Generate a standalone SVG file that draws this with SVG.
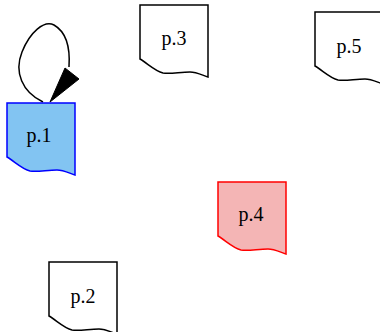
<svg xmlns="http://www.w3.org/2000/svg" width="380" height="332" viewBox="0 0 380 332">
<style>
.doc{fill:#fff;stroke:#000;stroke-width:1.5}
.lbl{font-family:"Liberation Serif",serif;font-size:20px;text-anchor:middle;fill:#000}
</style>
<defs>
<path id="docshape" d="M0,0 H68 V72 C62,70 56,67 50,67 C40,67 31,69 23,68 C15,66 7,58 0,54 Z"/>
</defs>
<g id="edges">
<path d="M43,102 C22,92 14,72 22,52 C30,32 44,20 54,25 C68,33 70,52 69,67" fill="none" stroke="#000" stroke-width="1.5"/>
<polygon points="65,68 79,79 50,102" fill="#000" stroke="#000"/>
</g>
<g id="p1" transform="translate(7,103)">
<use href="#docshape" class="doc" style="fill:#82c4f2;stroke:#0000ff"/>
<text class="lbl" x="32" y="39">p.1</text>
</g>
<g id="p3" transform="translate(140,5)">
<use href="#docshape" class="doc"/>
<text class="lbl" x="34" y="40">p.3</text>
</g>
<g id="p5" transform="translate(315,12)">
<use href="#docshape" class="doc"/>
<text class="lbl" x="34" y="41">p.5</text>
</g>
<g id="p4" transform="translate(218,182)">
<use href="#docshape" class="doc" style="fill:#f4b5b5;stroke:#ff0000"/>
<text class="lbl" x="33" y="39">p.4</text>
</g>
<g id="p2" transform="translate(49,262)">
<use href="#docshape" class="doc"/>
<text class="lbl" x="34" y="41">p.2</text>
</g>
</svg>
